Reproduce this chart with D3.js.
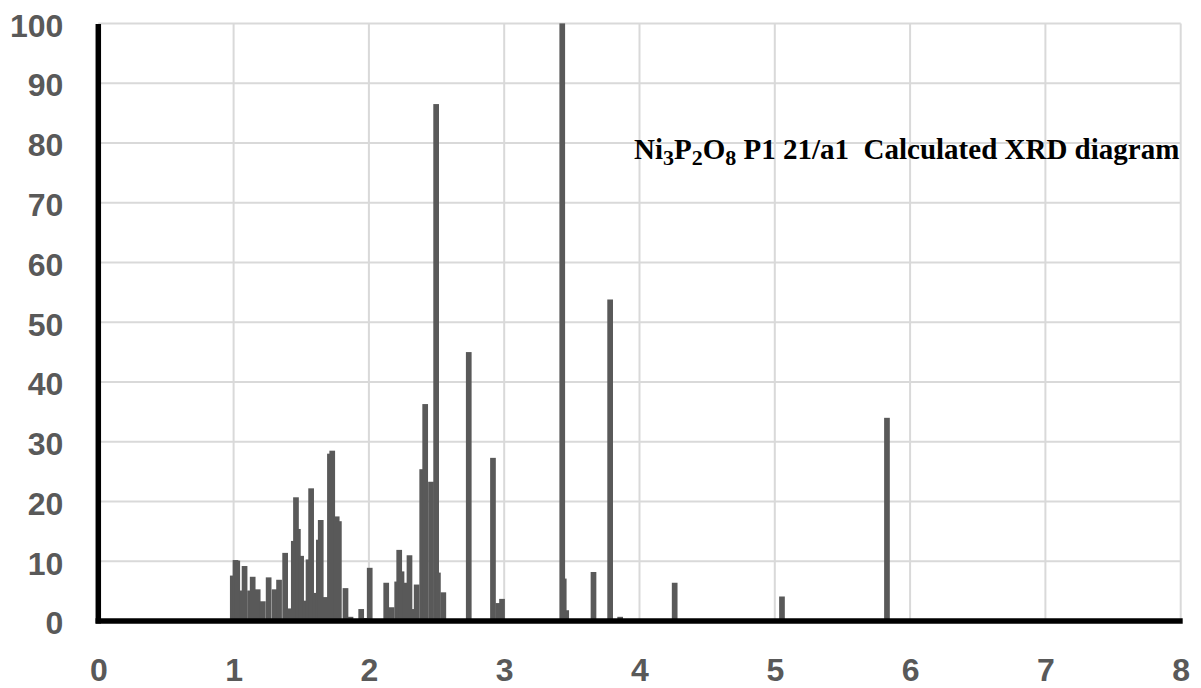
<!DOCTYPE html>
<html>
<head>
<meta charset="utf-8">
<script src="https://cdn.jsdelivr.net/npm/d3@7"></script>
<style>
  html, body { margin: 0; padding: 0; background: #ffffff; }
  svg { display: block; }
</style>
</head>
<body>
<svg id="chart" width="1201" height="688"></svg>
<script>
// Peak positions (x) and relative intensities (%)
const positions = [0.994, 1.014, 1.027, 1.068, 1.081, 1.122, 1.141, 1.178, 1.216, 1.259,
  1.303, 1.336, 1.381, 1.414, 1.445, 1.461, 1.475, 1.499, 1.527, 1.554,
  1.573, 1.602, 1.630, 1.644, 1.678, 1.712, 1.729, 1.762, 1.778, 1.827,
  1.864, 1.890, 1.943, 1.970, 2.006, 2.128, 2.168, 2.209, 2.224, 2.241,
  2.271, 2.300, 2.327, 2.353, 2.394, 2.416, 2.459, 2.497, 2.510, 2.550,
  2.738, 2.917, 2.956, 2.984, 3.429, 3.440, 3.458, 3.660, 3.783, 3.857,
  4.260, 5.053, 5.829];
const intensities = [7.6, 10.2, 10.1, 5.1, 9.2, 5.1, 7.4, 5.3, 3.3, 7.3,
  5.3, 6.9, 11.4, 2.1, 13.4, 20.7, 15.4, 10.9, 3.4, 10.3,
  22.2, 4.7, 13.6, 16.9, 4.0, 28.0, 28.5, 17.5, 16.7, 5.5,
  0.7, 0.3, 2.0, 0.5, 8.9, 6.4, 2.3, 6.6, 11.9, 8.3,
  6.4, 11.0, 2.0, 6.1, 25.4, 36.3, 23.3, 86.5, 8.1, 4.8,
  45.0, 27.3, 3.0, 3.7, 100, 7.1, 1.8, 8.2, 53.8, 0.7,
  6.4, 4.1, 34.0];
const xTicks = [0, 1, 2, 3, 4, 5, 6, 7, 8];
const yTicks = [0, 10, 20, 30, 40, 50, 60, 70, 80, 90, 100];
const titleParts = [
  {t: "Ni", sub: false}, {t: "3", sub: true},
  {t: "P", sub: false}, {t: "2", sub: true},
  {t: "O", sub: false}, {t: "8", sub: true},
  {t: " P1 21/a1  Calculated XRD diagram", sub: false}
];

const peaks = positions.map((p, i) => ({x: p, v: intensities[i]}));

const svg = d3.select("#chart");
const x = d3.scaleLinear().domain([0, 8]).range([98.3, 1180.7]);
const y = d3.scaleLinear().domain([0, 100]).range([621, 23.4]);

const gridColor = "#d9d9d9";
const labelColor = "#595959";
const barColor = "#595959";
const barWidth = 5.7;

// gridlines
svg.append("g").selectAll("line.h")
  .data(yTicks.filter(d => d > 0)).join("line")
  .attr("x1", x(0)).attr("x2", x(8))
  .attr("y1", d => y(d)).attr("y2", d => y(d))
  .attr("stroke", gridColor).attr("stroke-width", 2);
svg.append("g").selectAll("line.v")
  .data(xTicks.filter(d => d > 0)).join("line")
  .attr("x1", d => x(d)).attr("x2", d => x(d))
  .attr("y1", y(100)).attr("y2", y(0))
  .attr("stroke", gridColor).attr("stroke-width", 2);

// bars
svg.append("g").selectAll("rect")
  .data(peaks).join("rect")
  .attr("x", d => x(d.x) - barWidth / 2)
  .attr("width", barWidth)
  .attr("y", d => y(d.v))
  .attr("height", d => y(0) - y(d.v))
  .attr("fill", barColor);

// axes (labels)
const yAxis = d3.axisLeft(y).tickValues(yTicks).tickSize(0).tickPadding(35).tickFormat(d3.format("d"));
const gy = svg.append("g").attr("transform", `translate(${x(0)},0)`).call(yAxis);
gy.select(".domain").remove();
gy.selectAll("text")
  .attr("dy", "0.4em")
  .attr("fill", labelColor)
  .style("font-family", "'Liberation Sans', Arial, sans-serif")
  .style("font-weight", "bold")
  .style("font-size", "32px");

const xAxis = d3.axisBottom(x).tickValues(xTicks).tickSize(0).tickPadding(37).tickFormat(d3.format("d"));
const gx = svg.append("g").attr("transform", `translate(0,${y(0)})`).call(xAxis);
gx.select(".domain").remove();
gx.selectAll("text")
  .attr("fill", labelColor)
  .style("font-family", "'Liberation Sans', Arial, sans-serif")
  .style("font-weight", "bold")
  .style("font-size", "32px");

// axis lines
svg.append("line")
  .attr("x1", x(0)).attr("x2", x(0))
  .attr("y1", y(100) + 0.5).attr("y2", y(0) + 2.5)
  .attr("stroke", "#000").attr("stroke-width", 5.5);
svg.append("line")
  .attr("x1", x(0) - 2.75).attr("x2", x(8) + 2)
  .attr("y1", y(0)).attr("y2", y(0))
  .attr("stroke", "#000").attr("stroke-width", 5.5);

// title
const title = svg.append("text")
  .attr("x", 634).attr("y", 158.5)
  .attr("fill", "#000")
  .style("font-family", "'Liberation Serif', 'Times New Roman', serif")
  .style("font-weight", "bold")
  .style("font-size", "29px")
  .style("white-space", "pre")
  .attr("xml:space", "preserve");
let prevSub = false;
titleParts.forEach(p => {
  const ts = title.append("tspan").text(p.t);
  if (p.sub) {
    ts.attr("dy", 6).style("font-size", "22px");
  } else if (prevSub) {
    ts.attr("dy", -6);
  }
  prevSub = p.sub;
});
</script>
</body>
</html>
